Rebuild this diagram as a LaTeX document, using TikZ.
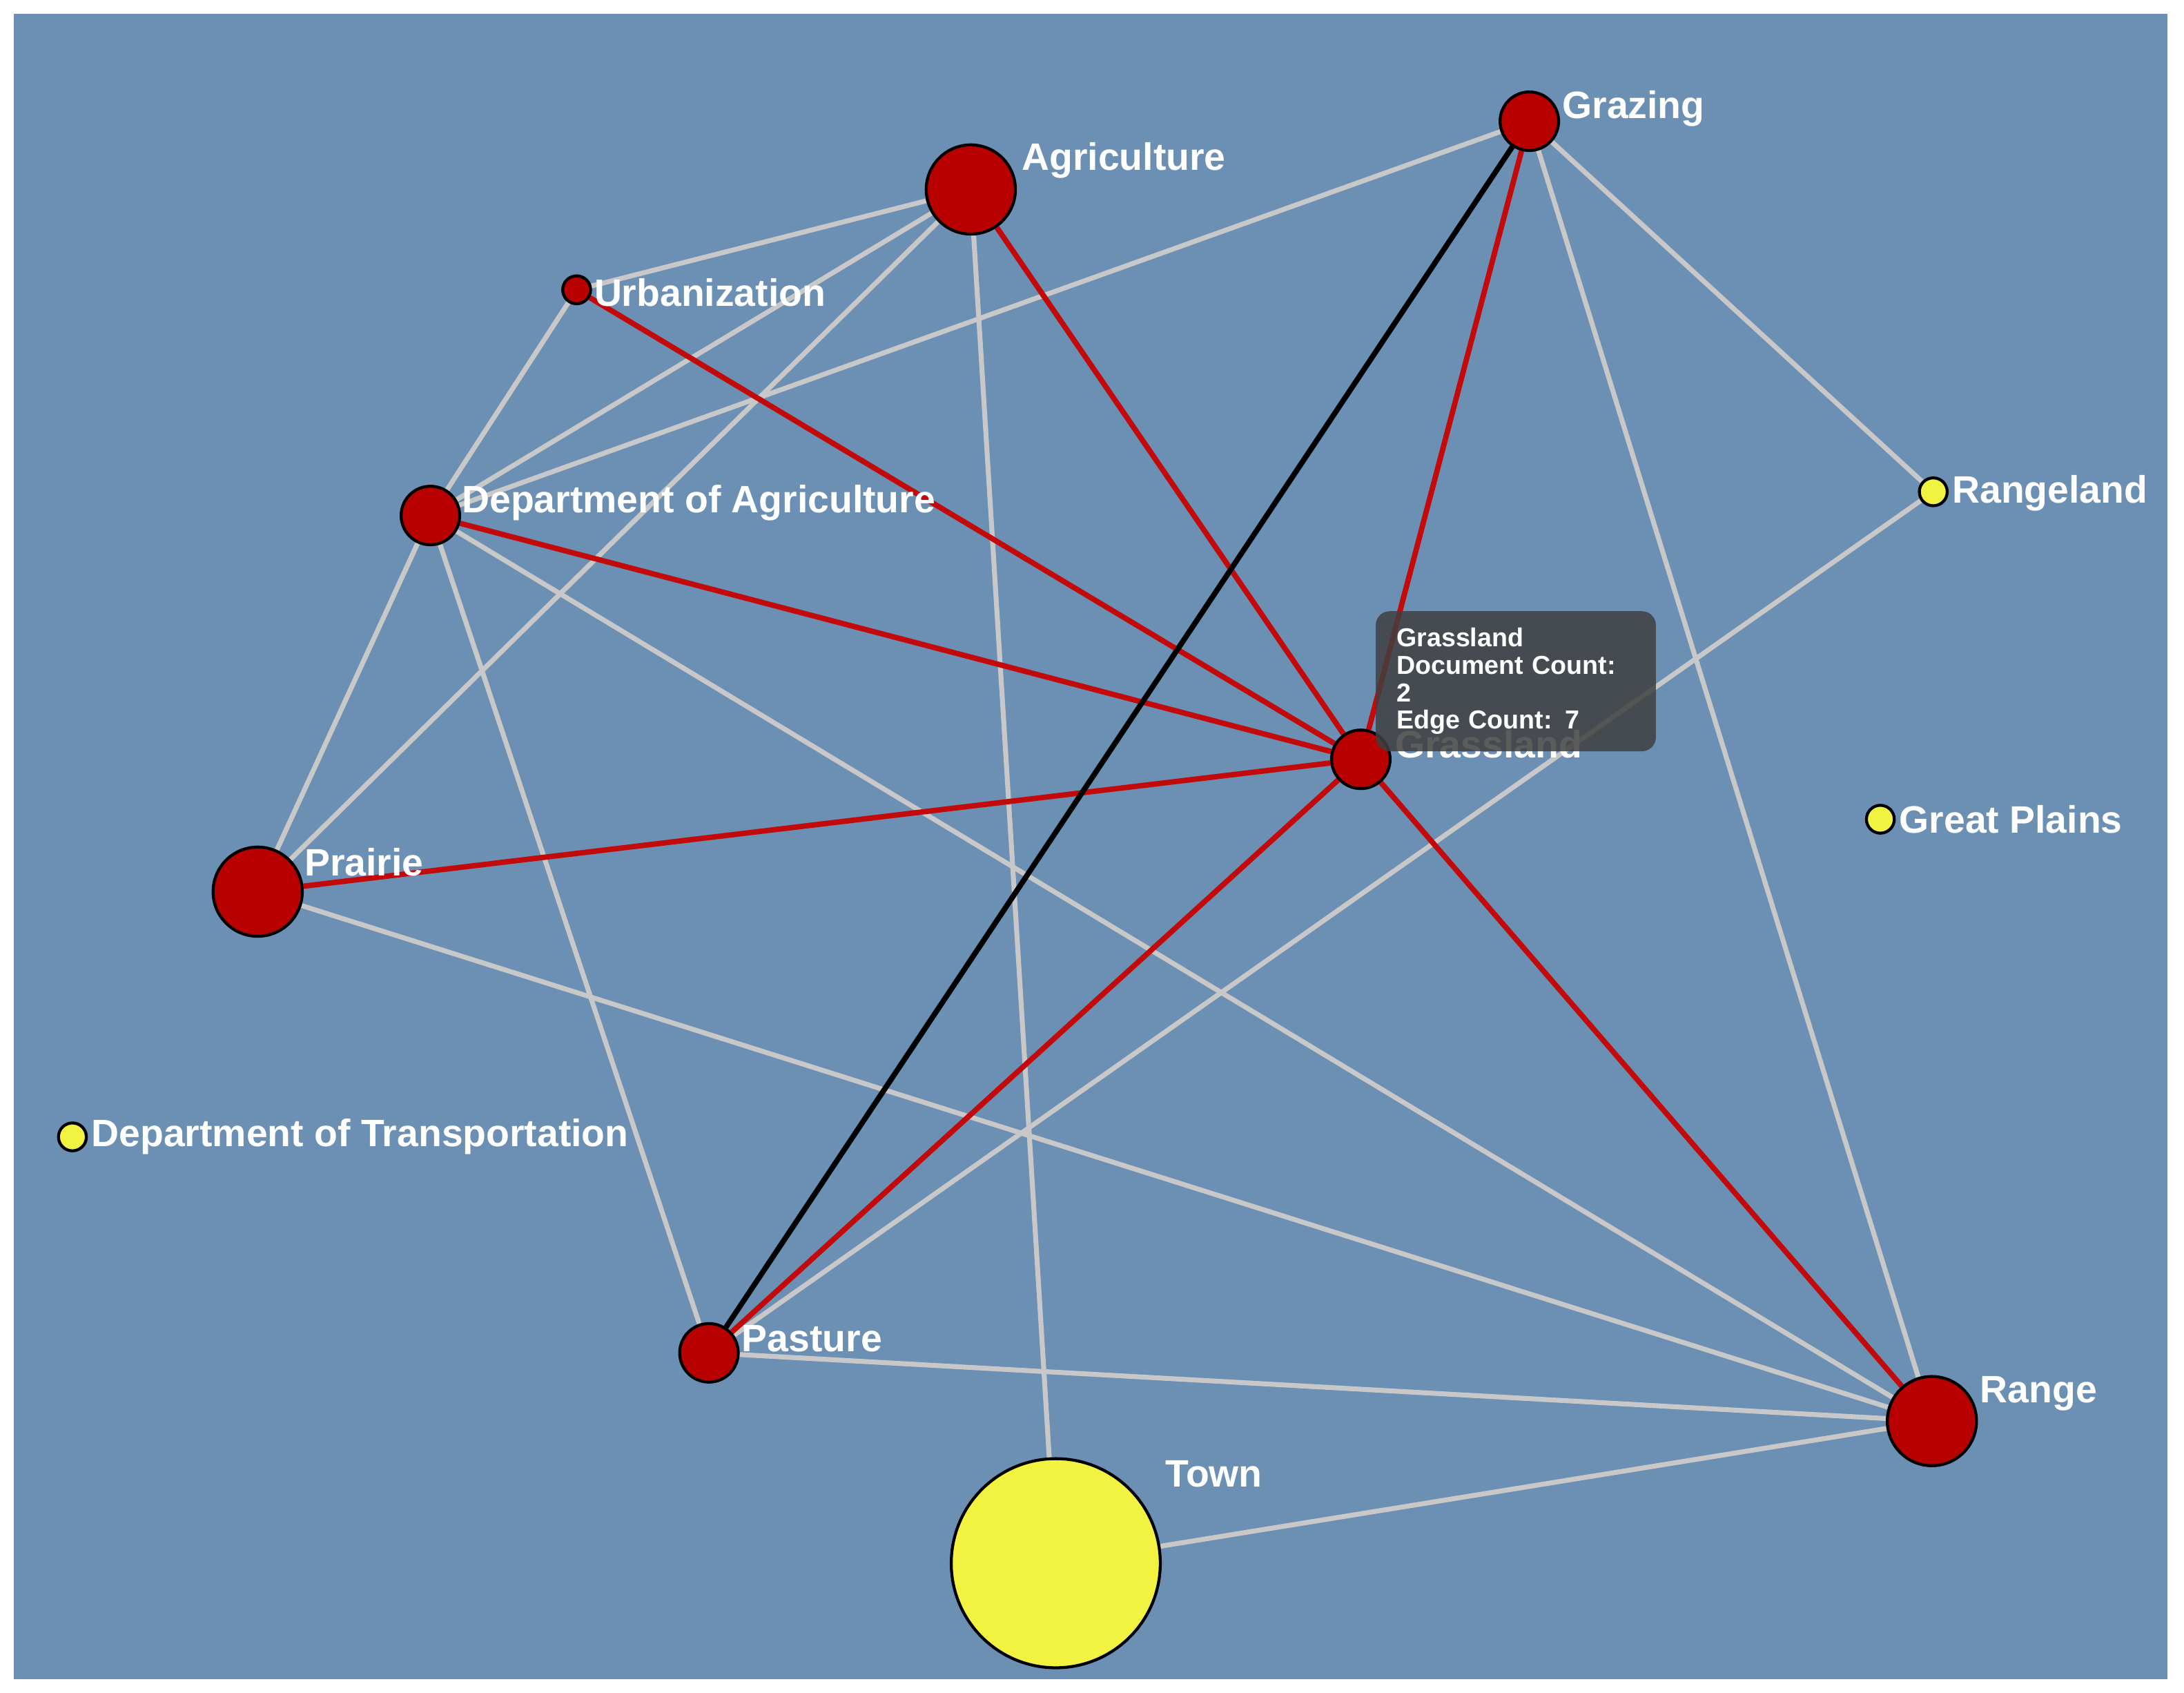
\documentclass[tikz,border=0pt]{standalone}
\usepackage{fontspec}
\setmainfont{Liberation Sans}
\usepackage{xcolor}
\usetikzlibrary{positioning}
\definecolor{bgblue}{RGB}{108,143,180}
\definecolor{nodered}{RGB}{185,0,0}
\definecolor{edgered}{RGB}{195,10,10}
\definecolor{nodeyellow}{RGB}{242,242,64}
\definecolor{edgegray}{RGB}{200,200,200}
\pgfdeclarelayer{bg}
\pgfsetlayers{bg,main}
\tikzset{
  term/.style={circle, draw=black, line width=0.6pt, inner sep=0pt},
  hot/.style={term, fill=nodered},
  cold/.style={term, fill=nodeyellow},
  lbl/.style={anchor=west, inner sep=0pt, text=white, font=\fontsize{7.8}{9}\selectfont\bfseries},
  plain/.style={draw=edgegray, line width=1pt},
  strong/.style={draw=edgered, line width=1.1pt},
  picked/.style={draw=black, line width=1.1pt}
}
\begin{document}
\begin{tikzpicture}[x=0.01cm, y=-0.01cm]
    \useasboundingbox (0,0) rectangle (1568,1215);
    % Background
    \begin{pgfonlayer}{bg}
        \fill[white] (0,0) rectangle (1568,1215);
        \fill[bgblue] (10,10) rectangle (1556,1205);
    \end{pgfonlayer}
    % Terms
    \node[hot, minimum size=0.42cm] (grazing) at (1098,87) {};
    \node[hot, minimum size=0.64cm] (agri) at (697,136) {};
    \node[hot, minimum size=0.20cm] (urban) at (414,208) {};
    \node[hot, minimum size=0.42cm] (deptagri) at (309,370) {};
    \node[cold, minimum size=0.20cm] (rangeland) at (1388,353) {};
    \node[hot, minimum size=0.42cm] (grass) at (977,545) {};
    \node[cold, minimum size=0.20cm] (plains) at (1350,588) {};
    \node[hot, minimum size=0.64cm] (prairie) at (185,640) {};
    \node[cold, minimum size=0.20cm] (depttrans) at (52,816) {};
    \node[hot, minimum size=0.42cm] (pasture) at (509,971) {};
    \node[hot, minimum size=0.64cm] (range) at (1387,1020) {};
    \node[cold, minimum size=1.50cm] (town) at (758,1122) {};
    % Labels
    \node[lbl] (l-grazing) at (1121,78) {Grazing};
    \node[lbl] (l-agri) at (733,115) {Agriculture};
    \node[lbl] (l-urban) at (426,210) {Urbanization};
    \node[lbl] (l-deptagri) at (331,361) {Department of Agriculture};
    \node[lbl] (l-rangeland) at (1401,354) {Rangeland};
    \node[lbl] (l-grass) at (1001,534) {Grassland};
    \node[lbl] (l-plains) at (1363,588) {Great Plains};
    \node[lbl] (l-prairie) at (218,619) {Prairie};
    \node[lbl] (l-depttrans) at (65,816) {Department of Transportation};
    \node[lbl] (l-pasture) at (532,961) {Pasture};
    \node[lbl] (l-range) at (1421,1000) {Range};
    \node[lbl] (l-town) at (836,1058) {Town};
    % Edges
    \begin{pgfonlayer}{bg}
        \draw[plain] (urban) -- (agri);
        \draw[plain] (urban) -- (deptagri);
        \draw[plain] (deptagri) -- (agri);
        \draw[plain] (deptagri) -- (grazing);
        \draw[plain] (prairie) -- (agri);
        \draw[plain] (agri.center) -- (town.center);
        \draw[plain] (deptagri) -- (prairie);
        \draw[plain] (deptagri) -- (pasture);
        \draw[plain] (deptagri) -- (range);
        \draw[plain] (prairie) -- (range);
        \draw[plain] (pasture) -- (range);
        \draw[plain] (town) -- (range);
        \draw[plain] (grazing) -- (rangeland);
        \draw[plain] (grazing) -- (range);
        \draw[plain] (rangeland) -- (pasture);
        \draw[strong] (urban) -- (grass);
        \draw[strong] (agri) -- (grass);
        \draw[strong] (deptagri) -- (grass);
        \draw[strong] (prairie) -- (grass);
        \draw[strong] (grazing) -- (grass);
        \draw[strong] (pasture) -- (grass);
        \draw[strong] (grass) -- (range);
        \draw[picked] (pasture) -- (grazing);
    \end{pgfonlayer}
    % Tooltip
    \node[anchor=north west, minimum width=2.01cm, minimum height=0.85cm, rounded corners=0.1cm,
          fill=black!75, fill opacity=0.85, text opacity=1, text=white, align=left,
          inner xsep=0.15cm, inner ysep=0.12cm, text width=1.71cm,
          font=\fontsize{5.3}{5.6}\selectfont\bfseries] (tip) at (987,438)
          {Grassland\\Document Count: 2\\Edge Count: 7};
\end{tikzpicture}
\end{document}
